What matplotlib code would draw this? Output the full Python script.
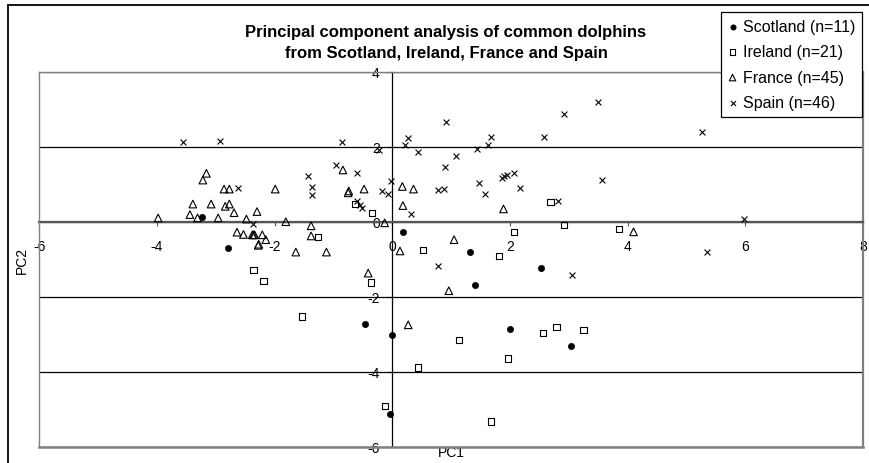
import matplotlib
matplotlib.use("Agg")
import matplotlib.pyplot as plt
from matplotlib.patches import Rectangle

plt.rcParams['font.family'] = ['Liberation Sans', 'DejaVu Sans']
plt.rcParams['axes.unicode_minus'] = False

title = "Principal component analysis of common dolphins\nfrom Scotland, Ireland, France and Spain"
x_label = "PC1"
y_label = "PC2"
x_ticks = [-6, -4, -2, 0, 2, 4, 6, 8]
y_ticks = [-6, -4, -2, 0, 2, 4]

scotland_label = "Scotland (n=11)"
scotland_x = [-3.24, -2.79, 0.18, 1.32, 2.52, 1.41, -0.47, -0.01, 2.00, 3.03, -0.04]
scotland_y = [0.12, -0.71, -0.27, -0.82, -1.24, -1.69, -2.74, -3.01, -2.87, -3.31, -5.14]

ireland_label = "Ireland (n=21)"
ireland_x = [-2.36, -2.19, -1.26, -0.63, -0.34, -0.36, 0.52, 1.81, 2.07, 2.69, 2.92,
             3.85, -1.54, 1.14, 1.96, 2.56, 2.79, 3.25, 0.43, -0.12, 1.68]
ireland_y = [-1.28, -1.59, -0.41, 0.47, 0.23, -1.62, -0.75, -0.91, -0.27, 0.53, -0.08,
             -0.20, -2.53, -3.15, -3.65, -2.97, -2.80, -2.88, -3.89, -4.91, -5.33]

france_label = "France (n=45)"
france_x = [-3.98, -3.16, -3.22, -2.86, -2.77, -3.39, -3.08, -3.44, -3.31, -2.96,
            -2.84, -2.77, -2.69, -2.48, -2.30, -1.99, -1.81, -2.64, -2.53, -2.38,
            -2.34, -2.21, -2.15, -2.27, -2.28, -1.64, -1.38, -1.38, -1.12, -0.84,
            -0.75, -0.74, -0.48, -0.13, 0.17, 0.36, 0.18, 0.13, 1.05, 1.89,
            0.96, 4.10, 0.27, -0.41, -2.36]
france_y = [0.10, 1.29, 1.11, 0.87, 0.87, 0.47, 0.47, 0.19, 0.10, 0.10,
            0.41, 0.47, 0.24, 0.07, 0.27, 0.87, 0.00, -0.28, -0.34, -0.35,
            -0.35, -0.35, -0.48, -0.60, -0.63, -0.81, -0.11, -0.38, -0.81, 1.38,
            0.77, 0.82, 0.87, -0.03, 0.94, 0.87, 0.43, -0.78, -0.48, 0.34,
            -1.84, -0.27, -2.75, -1.37, -0.35]

spain_label = "Spain (n=46)"
spain_x = [-3.55, -2.93, -0.86, -0.22, 0.21, 0.26, 0.43, 0.92, 1.09, 1.44,
           1.63, 1.67, 2.58, 2.92, 3.50, 5.26, 3.57, 5.97, 5.35, 3.05,
           0.77, -2.63, -2.37, -0.96, -0.60, -1.44, -1.37, -1.37, -0.60, -0.52,
           -0.03, -0.18, -0.07, 0.32, 0.90, 0.77, 0.88, 1.48, 1.57, 1.86,
           1.95, 2.06, 2.17, 2.81, 1.90, -0.55]
spain_y = [2.12, 2.16, 2.12, 1.92, 2.05, 2.24, 1.85, 2.66, 1.76, 1.95,
           2.05, 2.27, 2.27, 2.86, 3.20, 2.38, 1.11, 0.07, -0.81, -1.41,
           -1.17, 0.90, -0.06, 1.52, 1.31, 1.22, 0.92, 0.71, 0.54, 0.37,
           1.08, 0.81, 0.74, 0.21, 1.45, 0.85, 0.87, 1.04, 0.75, 1.17,
           1.25, 1.31, 0.91, 0.56, 1.21, 0.45]

W, H = 869, 464
fig = plt.figure(figsize=(W / 100, H / 100), dpi=100)
fig.patch.set_facecolor('white')

# plot area in pixels
L, R, T, B = 39.3, 863.0, 72.7, 447.7
ax = fig.add_axes([L / W, 1 - B / H, (R - L) / W, (B - T) / H])
ax.set_xlim(x_ticks[0], x_ticks[-1])
ax.set_ylim(y_ticks[0], y_ticks[-1])

# horizontal gridlines
ax.set_yticks(y_ticks)
ax.set_xticks(x_ticks)
ax.yaxis.grid(True, color='black', linewidth=0.9, zorder=0)
ax.set_axisbelow(True)

# crossing axes
ax.spines['left'].set_position(('data', 0))
ax.spines['bottom'].set_position(('data', 0))
ax.spines['left'].set_color('black')
ax.spines['left'].set_linewidth(0.9)
ax.spines['bottom'].set_color('#555555')
ax.spines['bottom'].set_linewidth(1.6)
ax.spines['top'].set_color('#808080')
ax.spines['top'].set_linewidth(1.0)
ax.spines['right'].set_color('#808080')
ax.spines['right'].set_linewidth(1.6)
# plot-area left & bottom border
ax.plot([0, 0], [0, 1], transform=ax.transAxes, color='#808080', lw=1.0, clip_on=False, zorder=3)
ax.plot([0, 1], [0, 0], transform=ax.transAxes, color='#808080', lw=1.8, clip_on=False, zorder=3)

ax.tick_params(axis='x', direction='out', length=3, width=0.8, color='#555555',
               labelsize=10, pad=9.5, labelcolor='black')
ax.tick_params(axis='y', direction='out', length=3, width=0.8, color='black',
               labelsize=10, pad=6, labelcolor='black')
ax.set_xticklabels([str(v) for v in x_ticks])
ax.set_yticklabels([str(v) for v in y_ticks])

ax.set_xlabel(x_label, fontsize=10)
ax.xaxis.set_label_coords(0.5, 0.005)
ax.xaxis.label.set_va('top')
ax.set_ylabel(y_label, fontsize=10)
ax.yaxis.set_label_coords((22 - L) / (R - L), 0.5)
ax.yaxis.label.set_va('center')

ax.scatter(scotland_x, scotland_y, s=20, marker='o', facecolors='black',
           edgecolors='black', linewidths=0.5, zorder=4, label=scotland_label)
ax.scatter(ireland_x, ireland_y, s=20, marker='s', facecolors='none',
           edgecolors='black', linewidths=0.8, zorder=4, label=ireland_label)
ax.scatter(france_x, france_y, s=30, marker='^', facecolors='none',
           edgecolors='black', linewidths=0.8, zorder=4, label=france_label)
ax.scatter(spain_x, spain_y, s=18, marker='x', color='black',
           linewidths=0.8, zorder=4, label=spain_label)

leg = fig.legend(loc='upper right', bbox_to_anchor=(862 / W, 1 - 13 / H),
                 fontsize=11.5, frameon=True, fancybox=False, shadow=False,
                 edgecolor='black', framealpha=1, borderpad=0.42,
                 labelspacing=0.66, handlelength=0.6, handletextpad=0.35,
                 borderaxespad=0, markerscale=0.85)
leg.get_frame().set_linewidth(0.9)

fig.text(446 / W, 1 - 43 / H, title, ha='center', va='center',
         fontsize=12, fontweight='bold', linespacing=1.5)

# chart-area border
fig.add_artist(Rectangle((8 / W, -0.1), 1.2, (1 - 6 / H) + 0.1,
                         transform=fig.transFigure, fill=False,
                         edgecolor='black', linewidth=1.3))

fig.savefig('out.png', dpi=100)
